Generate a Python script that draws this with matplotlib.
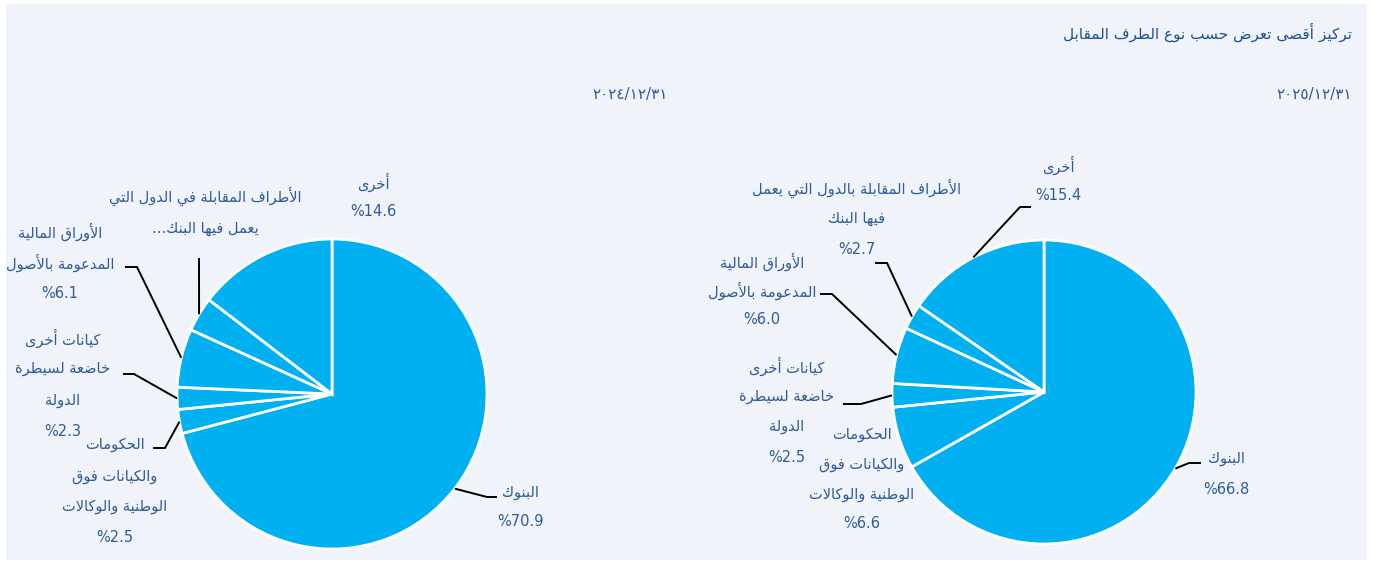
import matplotlib
matplotlib.use("Agg")
import matplotlib.pyplot as plt
from matplotlib.patches import Rectangle
import numpy as np

# ---------------- data ----------------
title = "تركيز أقصى تعرض حسب نوع الطرف المقابل"
date_2025 = "٢٠٢٥/١٢/٣١"
date_2024 = "٢٠٢٤/١٢/٣١"

categories = ["البنوك",
              "الحكومات والكيانات فوق الوطنية والوكالات",
              "كيانات أخرى خاضعة لسيطرة الدولة",
              "الأوراق المالية المدعومة بالأصول",
              "الأطراف المقابلة بالدول التي يعمل فيها البنك",
              "أخرى"]
values_2025 = [66.8, 6.6, 2.5, 6.0, 2.7, 15.4]
values_2024 = [70.9, 2.5, 2.3, 6.1, 3.6, 14.6]

labels_2025 = [["البنوك"],
               ["الحكومات", "والكيانات فوق", "الوطنية والوكالات"],
               ["كيانات أخرى", "خاضعة لسيطرة", "الدولة"],
               ["الأوراق المالية", "المدعومة بالأصول"],
               ["الأطراف المقابلة بالدول التي يعمل", "فيها البنك"],
               ["أخرى"]]
labels_2024 = [["البنوك"],
               ["الحكومات", "والكيانات فوق", "الوطنية والوكالات"],
               ["كيانات أخرى", "خاضعة لسيطرة", "الدولة"],
               ["الأوراق المالية", "المدعومة بالأصول"],
               ["الأطراف المقابلة في الدول التي", "يعمل فيها البنك..."],
               ["أخرى"]]
show_value_2025 = [True, True, True, True, True, True]
show_value_2024 = [True, True, True, True, False, True]

# ---------------- simple Arabic shaping ----------------
ARABIC = {
    'ء': (0xFE80, 'U'), 'آ': (0xFE81, 'R'), 'أ': (0xFE83, 'R'), 'ؤ': (0xFE85, 'R'),
    'إ': (0xFE87, 'R'), 'ئ': (0xFE89, 'D'), 'ا': (0xFE8D, 'R'), 'ب': (0xFE8F, 'D'),
    'ة': (0xFE93, 'R'), 'ت': (0xFE95, 'D'), 'ث': (0xFE99, 'D'), 'ج': (0xFE9D, 'D'),
    'ح': (0xFEA1, 'D'), 'خ': (0xFEA5, 'D'), 'د': (0xFEA9, 'R'), 'ذ': (0xFEAB, 'R'),
    'ر': (0xFEAD, 'R'), 'ز': (0xFEAF, 'R'), 'س': (0xFEB1, 'D'), 'ش': (0xFEB5, 'D'),
    'ص': (0xFEB9, 'D'), 'ض': (0xFEBD, 'D'), 'ط': (0xFEC1, 'D'), 'ظ': (0xFEC5, 'D'),
    'ع': (0xFEC9, 'D'), 'غ': (0xFECD, 'D'), 'ف': (0xFED1, 'D'), 'ق': (0xFED5, 'D'),
    'ك': (0xFED9, 'D'), 'ل': (0xFEDD, 'D'), 'م': (0xFEE1, 'D'), 'ن': (0xFEE5, 'D'),
    'ه': (0xFEE9, 'D'), 'و': (0xFEED, 'R'), 'ى': (0xFEEF, 'R'), 'ي': (0xFEF1, 'D'),
}
LAMALEF = {'آ': 0xFEF5, 'أ': 0xFEF7, 'إ': 0xFEF9, 'ا': 0xFEFB}


def shape(s):
    if not any(c in ARABIC for c in s):
        return s
    toks = []
    i = 0
    while i < len(s):
        if s[i] == 'ل' and i + 1 < len(s) and s[i + 1] in LAMALEF:
            toks.append(('LA', s[i + 1]))
            i += 2
        else:
            toks.append(('C', s[i]))
            i += 1

    def jt(t):
        if t[0] == 'LA':
            return 'R'
        return ARABIC[t[1]][1] if t[1] in ARABIC else None

    out = []
    n = len(toks)
    for k, t in enumerate(toks):
        typ = jt(t)
        prev = k > 0 and jt(toks[k - 1]) == 'D' and typ in ('D', 'R')
        nxt = typ == 'D' and k + 1 < n and jt(toks[k + 1]) in ('D', 'R')
        if t[0] == 'LA':
            out.append(chr(LAMALEF[t[1]] + (1 if prev else 0)))
        elif typ is None:
            out.append(t[1])
        elif typ == 'U':
            out.append(chr(ARABIC[t[1]][0]))
        elif typ == 'R':
            out.append(chr(ARABIC[t[1]][0] + (1 if prev else 0)))
        else:
            base = ARABIC[t[1]][0]
            if prev and nxt:
                off = 3
            elif prev:
                off = 1
            elif nxt:
                off = 2
            else:
                off = 0
            out.append(chr(base + off))
    return ''.join(out)[::-1]


# ---------------- figure ----------------
W, H = 1373, 562
fig = plt.figure(figsize=(W / 100, H / 100), dpi=100)
fig.patch.set_facecolor('white')
ax = fig.add_axes([0, 0, 1, 1])

FONT = ['DejaVu Sans']
TXT = '#2f5b96'
PIE = '#00b0f0'


def Y(y):
    return H - y


ax.add_patch(Rectangle((6, Y(560)), 1361, 556, facecolor='#f0f4fa',
                       edgecolor='none', zorder=0))

ax.text(1352, Y(32), shape(title), ha='right', va='center', fontsize=11,
        color='#1f4f8f', family=FONT)
ax.text(1352, Y(95), date_2025, ha='right', va='center', fontsize=11,
        color=TXT, family=FONT)
ax.text(668, Y(95), date_2024, ha='right', va='center', fontsize=11,
        color=TXT, family=FONT)

# layout: (label x, first line y, line spacing, leader points [elbow, end] or None)
layout_2024 = [
    (520, 492, 30, [(487, 497), (497, 497)]),
    (115, 445, 31, [(165, 448), (153, 448)]),
    (63, 338, 31, [(134, 374), (123, 374)]),
    (60, 232, 31, [(137, 267), (125, 267)]),
    (205, 196, 32, [(199, 258)]),
    (373, 182, 30, None),
]
layout_2025 = [
    (1226, 458, 32, [(1189, 463), (1201, 463)]),
    (862, 434, 30, None),
    (787, 366, 30.5, [(861, 404), (843, 404)]),
    (762, 262, 29, [(832, 294), (820, 294)]),
    (857, 188, 31, [(887, 263), (875, 263)]),
    (1058, 165, 30, [(1020, 207), (1031, 207)]),
]


def draw_pie(values, labels, show, layout, cx, cy, r):
    wedges, _ = ax.pie(values, startangle=90, counterclock=False,
                       colors=[PIE] * len(values), radius=r, center=(cx, Y(cy)),
                       wedgeprops=dict(edgecolor='white', linewidth=2),
                       frame=True)
    for w, v, lab, sh, lay in zip(wedges, values, labels, show, layout):
        lx, ly, sp, lead = lay
        lines = [shape(t) for t in lab]
        if sh:
            lines.append('%' + f'{v:.1f}')
        for j, t in enumerate(lines):
            ax.text(lx, Y(ly + j * sp), t, ha='center', va='center',
                    fontsize=10.5, color=TXT, family=FONT, zorder=5)
        if lead:
            th = np.deg2rad((w.theta1 + w.theta2) / 2)
            sx = cx + r * np.cos(th)
            sy = Y(cy) + r * np.sin(th)
            xs = [sx] + [p[0] for p in lead]
            ys = [sy] + [Y(p[1]) for p in lead]
            ax.plot(xs, ys, color='black', lw=1.4, zorder=4,
                    solid_capstyle='butt')


draw_pie(values_2024, labels_2024, show_value_2024, layout_2024, 332, 394, 155)
draw_pie(values_2025, labels_2025, show_value_2025, layout_2025, 1044, 392, 152)

ax.set_xlim(0, W)
ax.set_ylim(0, H)
ax.set_aspect('auto')
ax.axis('off')

fig.savefig('out.png', dpi=100, facecolor='white')
